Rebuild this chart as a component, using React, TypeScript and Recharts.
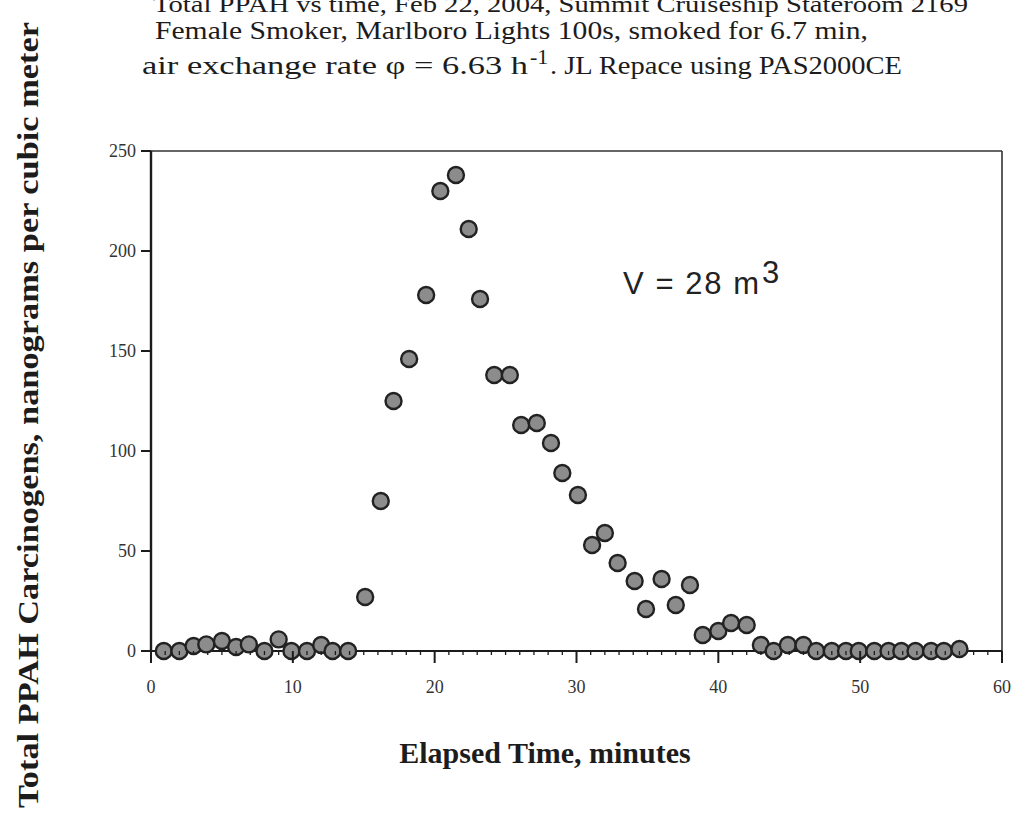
import { ScatterChart, Scatter, XAxis, YAxis, ReferenceLine } from "recharts";

// elapsed time (min) and total PPAH (ng/m3)
const times = [
  0.9, 2.0, 3.0, 3.9, 5.0, 6.0, 6.9, 8.0, 9.0, 9.9, 11.0, 12.0, 12.8, 13.9,
  15.1, 16.2, 17.1, 18.2, 19.4, 20.4, 21.5, 22.4, 23.2, 24.2, 25.3, 26.1,
  27.2, 28.2, 29.0, 30.1, 31.1, 32.0, 32.9, 34.1, 34.9, 36.0, 37.0, 38.0,
  38.9, 40.0, 40.9, 42.0, 43.0, 43.9, 44.9, 46.0, 46.9, 48.0, 49.0, 49.9,
  51.0, 52.0, 52.9, 53.9, 55.0, 55.9, 57.0,
];
const ppah = [
  0, 0, 2.5, 3.3, 5, 2, 3.3, 0, 5.8, 0, 0, 3, 0, 0,
  27, 75, 125, 146, 178, 230, 238, 211, 176, 138, 138, 113,
  114, 104, 89, 78, 53, 59, 44, 35, 21, 36, 23, 33,
  8, 10, 14, 13, 3, 0, 3, 3, 0, 0, 0, 0,
  0, 0, 0, 0, 0, 0, 1,
];

const xMajorTicks = [0, 10, 20, 30, 40, 50, 60];
const xMinorTicks = [
  0, 1, 2, 3, 4, 5, 6, 7, 8, 9, 10, 11, 12, 13, 14, 15, 16, 17, 18, 19, 20,
  21, 22, 23, 24, 25, 26, 27, 28, 29, 30, 31, 32, 33, 34, 35, 36, 37, 38, 39,
  40, 41, 42, 43, 44, 45, 46, 47, 48, 49, 50, 51, 52, 53, 54, 55, 56, 57, 58,
  59, 60,
];
const yTicks = [0, 50, 100, 150, 200, 250];

const titleLines = [
  "Total PPAH vs time, Feb 22, 2004, Summit Cruiseship Stateroom 2169",
  "Female Smoker, Marlboro Lights 100s, smoked for 6.7 min,",
];
const rateText = "air exchange rate φ = 6.63 h";
const rateExp = "-1";
const rateTail = ". JL Repace using PAS2000CE";
const xTitle = "Elapsed Time, minutes";
const yTitle = "Total PPAH Carcinogens, nanograms per cubic meter";

const points = times.map((t, i) => ({ t, v: ppah[i] }));

const serif = "'Liberation Serif', 'Times New Roman', serif";
const ink = "#1c1c1c";

function XTick({ x, y, payload }: any) {
  const major = xMajorTicks.includes(payload.value);
  return (
    <g>
      <line x1={x} x2={x} y1={y} y2={y + (major ? 12 : 4)} stroke={ink} strokeWidth={major ? 2 : 1.3} />
      {major && (
        <text x={x} y={y + 42} textAnchor="middle" fontFamily={serif} fontSize={18} fill="#333">
          {payload.value}
        </text>
      )}
    </g>
  );
}

function YTick({ x, y, payload }: any) {
  return (
    <g>
      <line x1={x - 10} x2={x} y1={y} y2={y} stroke={ink} strokeWidth={2} />
      <text x={x - 15} y={y + 6} textAnchor="end" fontFamily={serif} fontSize={18} fill="#333">
        {payload.value}
      </text>
    </g>
  );
}

function Dot({ cx, cy }: any) {
  return <circle cx={cx} cy={cy} r={8} fill="#8c8c8c" stroke="#222" strokeWidth={2.4} />;
}

export default function App() {
  return (
    <div style={{ position: "absolute", left: 0, top: 0, width: 1015, height: 823, background: "#fff" }}>
      <ScatterChart width={1015} height={823} margin={{ top: 151, right: 13, bottom: 0, left: 0 }}>
        <XAxis
          type="number"
          dataKey="t"
          domain={[0, 60]}
          ticks={xMinorTicks}
          interval={0}
          height={172}
          tickSize={0}
          tickMargin={0}
          tick={<XTick />}
          axisLine={{ stroke: ink, strokeWidth: 2 }}
        />
        <YAxis
          type="number"
          dataKey="v"
          domain={[0, 250]}
          ticks={yTicks}
          interval={0}
          width={151}
          tickSize={0}
          tickMargin={0}
          tick={<YTick />}
          axisLine={{ stroke: ink, strokeWidth: 2.4 }}
        />
        <ReferenceLine y={250} stroke="#333" strokeWidth={1.6} />
        <ReferenceLine x={60} stroke="#333" strokeWidth={1.6} />
        <Scatter data={points} shape={<Dot />} isAnimationActive={false} />
      </ScatterChart>

      <svg width={1015} height={823} style={{ position: "absolute", left: 0, top: 0, pointerEvents: "none" }}>
        <text x={153} y={12} fontFamily={serif} fontSize={24} fill={ink} textLength={815} lengthAdjust="spacingAndGlyphs">
          {titleLines[0]}
        </text>
        <text x={155} y={39} fontFamily={serif} fontSize={25} fill={ink} textLength={713} lengthAdjust="spacingAndGlyphs">
          {titleLines[1]}
        </text>
        <text x={142} y={74} fontFamily={serif} fontSize={26} fill={ink} textLength={386} lengthAdjust="spacingAndGlyphs">
          {rateText}
        </text>
        <text x={530} y={64} fontFamily={serif} fontSize={22} fill={ink}>
          {rateExp}
        </text>
        <text x={550} y={74} fontFamily={serif} fontSize={26} fill={ink} textLength={352} lengthAdjust="spacingAndGlyphs">
          {rateTail}
        </text>

        <text x={623} y={294} fontFamily="'Liberation Sans', Arial, sans-serif" fontSize={31} fill="#222" textLength={136} lengthAdjust="spacing">
          V = 28 m
        </text>
        <text x={762} y={283} fontFamily="'Liberation Sans', Arial, sans-serif" fontSize={31} fill="#222">
          3
        </text>

        <text x={545} y={763} textAnchor="middle" fontFamily={serif} fontWeight="bold" fontSize={30} fill={ink}>
          {xTitle}
        </text>
        <text
          transform="translate(38, 415) rotate(-90)"
          textAnchor="middle"
          fontFamily={serif}
          fontWeight="bold"
          fontSize={29}
          fill={ink}
          textLength={786}
          lengthAdjust="spacingAndGlyphs"
        >
          {yTitle}
        </text>
      </svg>
    </div>
  );
}
